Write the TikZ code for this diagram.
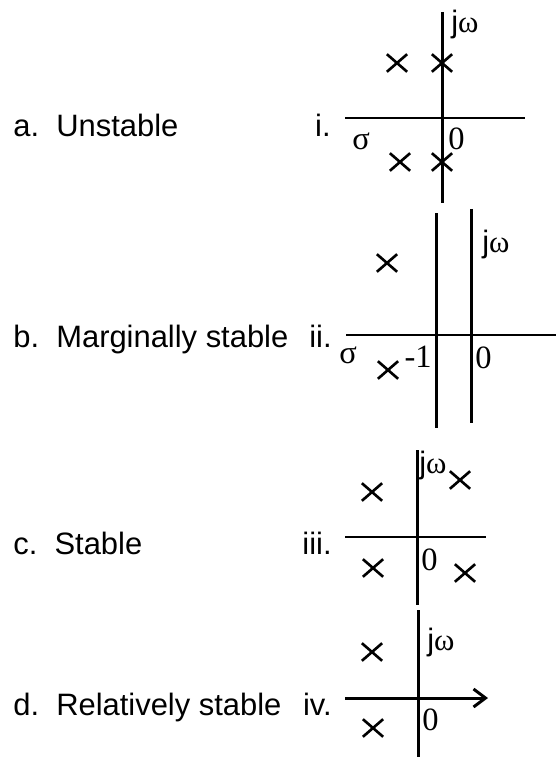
\documentclass[tikz,border=0pt]{standalone}
\usepackage{fontspec}
\setmainfont{Liberation Sans}
\newfontfamily\tmsfont{Liberation Serif}
\usetikzlibrary{arrows.meta, shapes.misc}

\tikzset{
  axis/.style={line width=1.7pt},
  pole/.style={cross out, draw, line width=1.5pt, inner sep=0pt,
    minimum width=10pt, minimum height=8.5pt},
  lbl/.style={font=\fontsize{17.6}{21}\selectfont, inner sep=0pt},
  num/.style={font=\fontsize{18.5}{21}\selectfont\tmsfont, inner sep=0pt}
}

\begin{document}
\begin{tikzpicture}[x=0.02cm, y=-0.02cm]
  \useasboundingbox (0,0) rectangle (556,760);
  % Left column: kinds of stability
  \node[lbl, anchor=base west] (unst) at (13,137) {a.~~Unstable};
  \node[lbl, anchor=base west] (marg) at (13,347) {b.~~Marginally stable};
  \node[lbl, anchor=base west] (stab) at (13,554) {c.~~Stable};
  \node[lbl, anchor=base west] (rel)  at (13,715) {d.~~Relatively stable};
  % Panel i
  \node[lbl, anchor=base east] (ni) at (331,137) {i.};
  \draw[axis] (442,12) -- (442,203);
  \draw[axis] (345,118) -- (525,118);
  \node[pole] (pa) at (397,63) {};
  \node[pole] (pb) at (442,63) {};
  \node[pole] (pc) at (400,162) {};
  \node[pole] (pd) at (442,162) {};
  \node[lbl, anchor=base west] (jwi) at (451,33) {j{\tmsfont ω}};
  \node[num, anchor=base west] (zi) at (448,150) {0};
  \node[num, anchor=base west] (si) at (352,150) {σ};
  % Panel ii
  \node[lbl, anchor=base east] (nii) at (332,347) {ii.};
  \draw[axis] (436,213) -- (436,428);
  \draw[axis] (471,209) -- (471,423);
  \draw[axis] (346,335) -- (556,335);
  \node[pole] (pe) at (387,263) {};
  \node[pole] (pf) at (388,370) {};
  \node[num, anchor=base west] (sii) at (339,363) {σ};
  \node[num, anchor=base east] (mi) at (432,367) {-1};
  \node[num, anchor=base west] (zii) at (475,368) {0};
  \node[lbl, anchor=base west] (jwii) at (482,252) {j{\tmsfont ω}};
  % Panel iii
  \node[lbl, anchor=base east] (niii) at (332,554) {iii.};
  \draw[axis] (417,450) -- (417,605);
  \draw[axis] (345,537) -- (486,537);
  \node[pole] (pg) at (372,492) {};
  \node[pole] (ph) at (460,480) {};
  \node[pole] (pk) at (373,568) {};
  \node[pole] (pl) at (465,573) {};
  \node[lbl, anchor=base west] (jwiii) at (419,473) {j{\tmsfont ω}};
  \node[num, anchor=base west] (ziii) at (421,570) {0};
  % Panel iv
  \node[lbl, anchor=base east] (niv) at (332,715) {iv.};
  \draw[axis] (418,610) -- (418,757);
  \draw[axis, -{Straight Barb[length=0.24cm, width=0.36cm]}] (345,698) -- (488,698);
  \node[pole] (pm) at (372,652) {};
  \node[pole] (pn) at (373,728) {};
  \node[lbl, anchor=base west] (jwiv) at (427,650) {j{\tmsfont ω}};
  \node[num, anchor=base west] (ziv) at (422,730) {0};
\end{tikzpicture}
\end{document}
